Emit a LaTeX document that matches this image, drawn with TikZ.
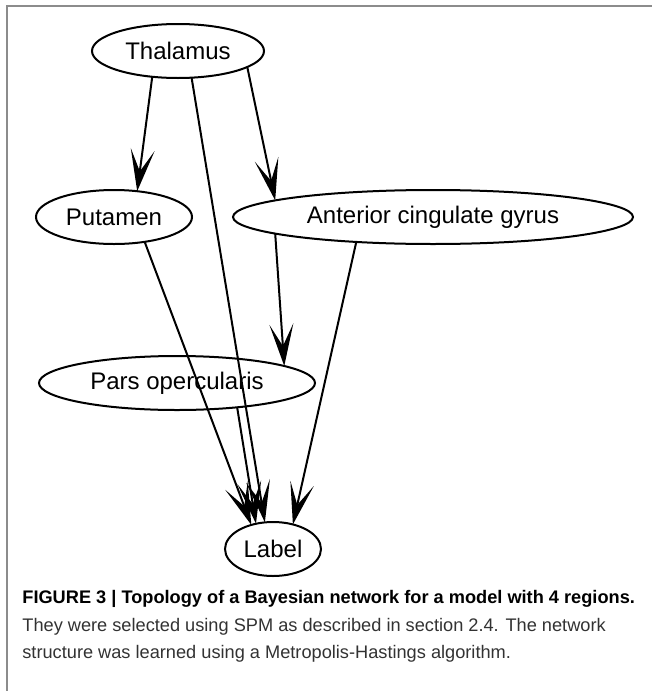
\documentclass[tikz,border=0pt]{standalone}
\usepackage{fontspec}
\setmainfont{Liberation Sans}
\usetikzlibrary{arrows.meta,shapes.geometric}
\definecolor{captext}{RGB}{50,50,50}
\definecolor{framegray}{RGB}{140,140,140}

\begin{document}
\begin{tikzpicture}[x=0.5pt,y=-0.5pt,
        region/.style={draw,ellipse,line width=1pt,inner sep=0pt,outer sep=0pt,
            minimum height=27pt,font=\fontsize{12}{14}\selectfont},
        link/.style={line width=1pt,-{Stealth[length=21pt,width=12pt,inset=11pt]}},
        caption/.style={anchor=base west,inner sep=0pt}]
    \useasboundingbox (0,0) rectangle (652,691);
    %% Frame
    \draw[framegray,line width=0.8pt] (7,691) -- (7,6) -- (652,6);
    %% Regions
    \node[region,minimum width=86pt] (thal) at (178,51) {Thalamus};
    \node[region,minimum width=78pt] (put) at (114,217) {Putamen};
    \node[region,minimum width=200pt] (acg) at (433,217) {Anterior cingulate gyrus};
    \node[region,minimum width=138pt] (pars) at (177,383) {Pars opercularis};
    \node[region,minimum width=48pt] (label) at (273,549) {Label};
    %% Edges
    \draw[link] (thal.225) -- (put.48);
    \draw[link] (thal.347) -- (acg.174);
    \draw[link] (thal.297) -- (label.107);
    \draw[link] (put.321) -- (label.132);
    \draw[link] (acg.186) -- (pars.9);
    \draw[link] (acg.198) -- (label.51);
    \draw[link] (pars.338) -- (label.124);
    %% Caption
    \node[caption] (cap1) at (22,603)
        {\fontsize{9.1}{11}\selectfont\bfseries FIGURE 3 | Topology of a Bayesian network for a model with 4 regions.};
    \node[caption,text=captext] (cap2) at (22,631)
        {\fontsize{9.1}{11}\selectfont They were selected using SPM as described in section 2.4. The network};
    \node[caption,text=captext] (cap3) at (22,658)
        {\fontsize{9.1}{11}\selectfont structure was learned using a Metropolis-Hastings algorithm.};
\end{tikzpicture}
\end{document}
